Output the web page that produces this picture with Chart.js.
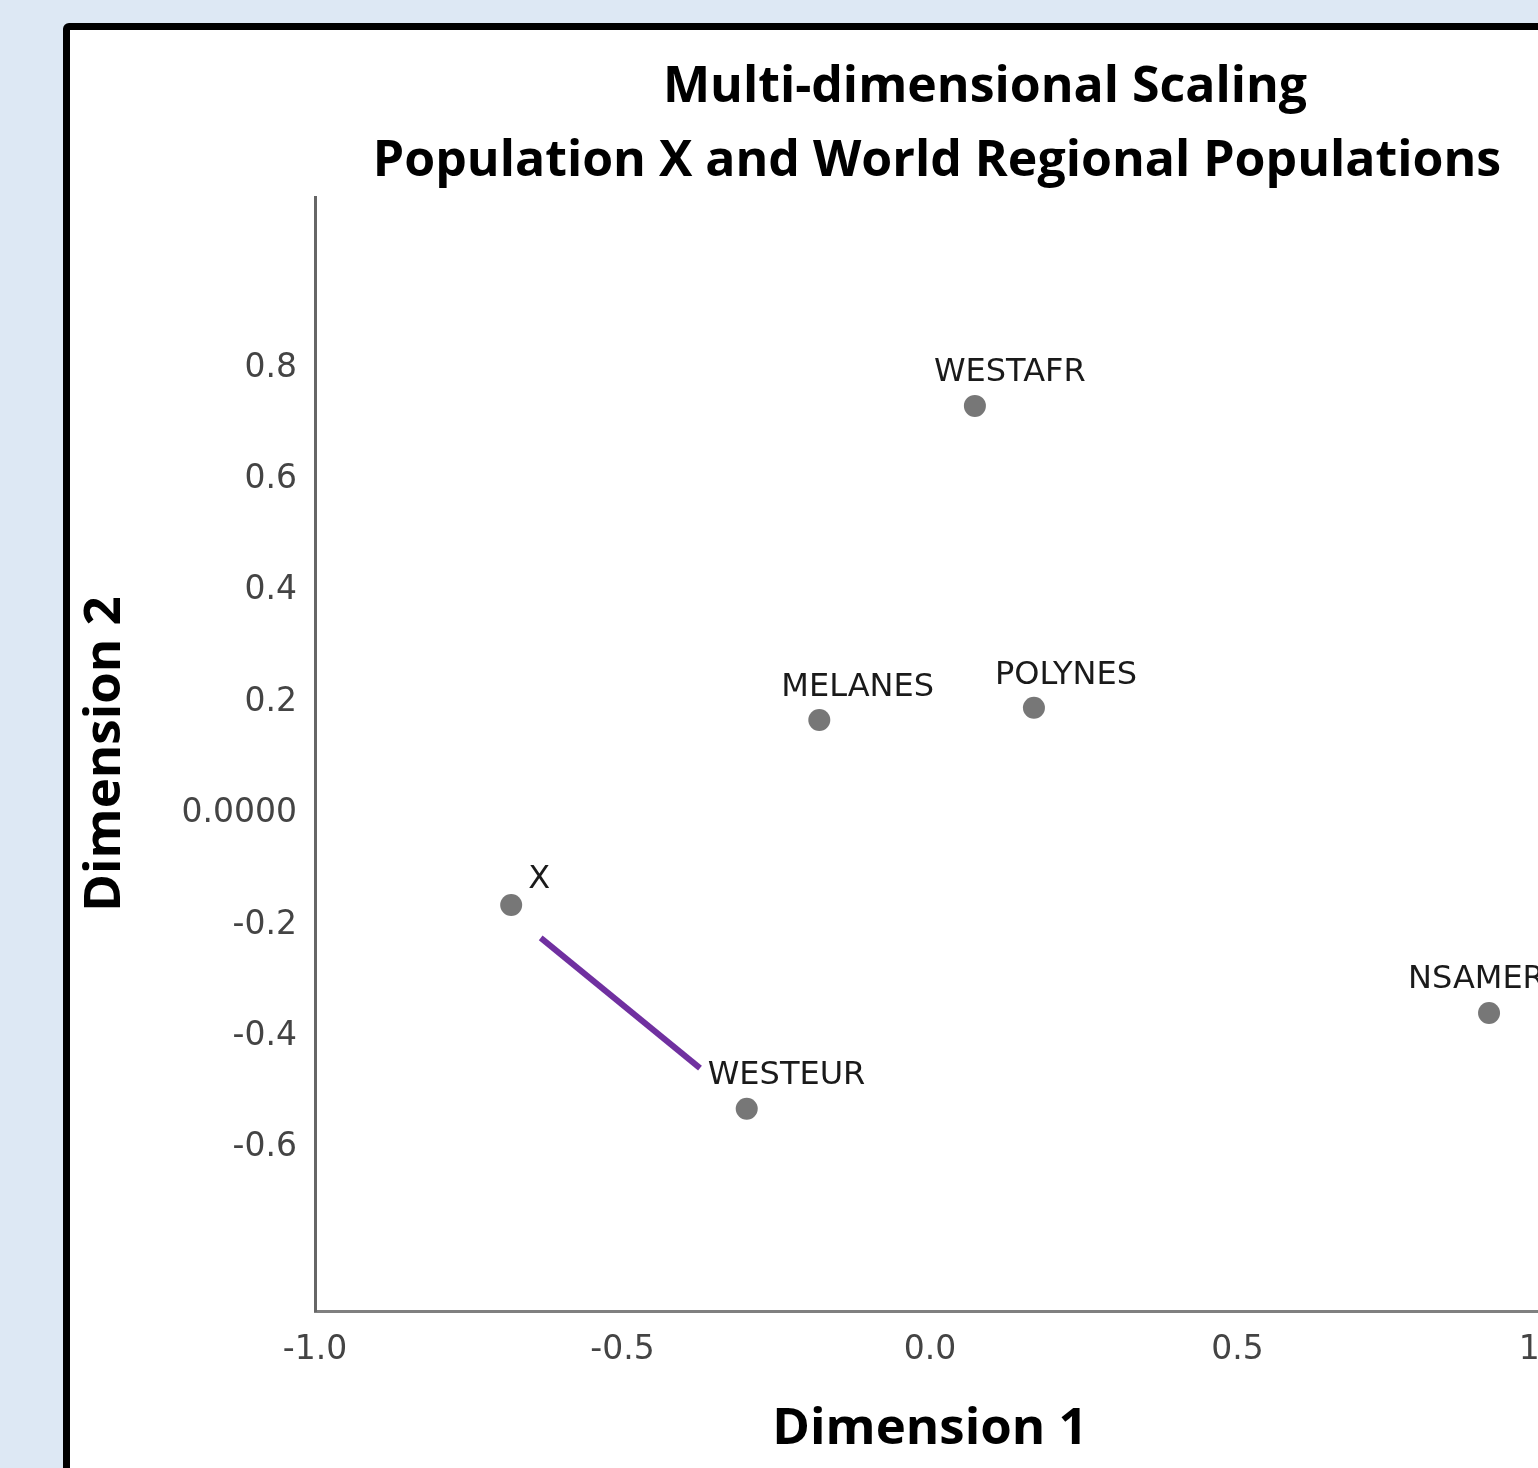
<!DOCTYPE html>
<html>
<head>
<meta charset="utf-8">
<script src="https://cdn.jsdelivr.net/npm/chart.js@4"></script>
<style>
  html, body { margin: 0; padding: 0; }
  body { width: 1538px; height: 1468px; overflow: hidden; background: #dde8f4; position: relative; }
  #panel { position: absolute; left: 63px; top: 23px; width: 1700px; height: 1500px; background: #fff; border: 7px solid #000; border-radius: 6px; }
  #mds { position: absolute; left: 0; top: 0; }
</style>
</head>
<body>
<div id="panel"><canvas id="mds" width="1600" height="1450"></canvas></div>
<script>
//population names
const populations = ["WESTAFR", "MELANES", "POLYNES", "X", "WESTEUR", "NSAMER"];
//coordinates on each dimension
const dimension1 = [0.073, -0.180, 0.169, -0.681, -0.298, 0.909];
const dimension2 = [0.732, 0.168, 0.190, -0.164, -0.530, -0.358];
//purple marker line drawn between X and WESTEUR
const markerX = [-0.633, -0.374];
const markerY = [-0.223, -0.457];
//tick values and labels for dimension 2
const yTicks = [-0.6, -0.4, -0.2, 0, 0.2, 0.4, 0.6, 0.8];
const yTickLabels = ["-0.6", "-0.4", "-0.2", "0.0000", "0.2", "0.4", "0.6", "0.8"];
const titleLines = ["Multi-dimensional Scaling", "Population X and World Regional Populations"];

//label placement: dx from point to text start, dy to text middle
const labelOffsets = [[-41, -33], [-38, -32], [-39, -32], [17, -25], [-39, -33], [-81, -33]];

const pointData = dimension1.map((x, i) => ({ x: x, y: dimension2[i] }));
const markerData = markerX.map((x, i) => ({ x: x, y: markerY[i] }));

//draws the name of each population next to its point
const pointLabels = {
  id: "pointLabels",
  afterDatasetsDraw(chart) {
    const ctx = chart.ctx;
    const meta = chart.getDatasetMeta(0);
    ctx.save();
    ctx.font = "32px 'DejaVu Sans'";
    ctx.fillStyle = "#1a1a1a";
    ctx.textAlign = "left";
    ctx.textBaseline = "middle";
    meta.data.forEach((pt, i) => {
      ctx.fillText(populations[i], pt.x + labelOffsets[i][0], pt.y + labelOffsets[i][1]);
    });
    ctx.restore();
  },
};

//two title lines above the plot
const titleBlock = {
  id: "titleBlock",
  afterDraw(chart) {
    const ctx = chart.ctx;
    const left = chart.chartArea.left;
    ctx.save();
    ctx.font = "bold 50px 'Open Sans'";
    ctx.fillStyle = "#000";
    ctx.textAlign = "center";
    ctx.textBaseline = "middle";
    ctx.fillText(titleLines[0], left + 670, 58);
    ctx.fillText(titleLines[1], left + 622, 132);
    ctx.restore();
  },
};

const axisTitleFont = { family: "'Open Sans'", size: 51, weight: "bold" };
const tickFont = { family: "'DejaVu Sans'", size: 33 };

new Chart(document.getElementById("mds"), {
  type: "scatter",
  plugins: [pointLabels, titleBlock],
  data: {
    datasets: [
      {
        data: pointData,
        backgroundColor: "#777777",
        borderWidth: 0,
        pointRadius: 11,
      },
      {
        data: markerData,
        showLine: true,
        borderColor: "#7030a0",
        borderWidth: 6,
        pointRadius: 0,
      },
    ],
  },
  options: {
    responsive: false,
    animation: false,
    layout: { padding: { top: 167, left: 0, right: 125, bottom: 0 } },
    plugins: {
      legend: { display: false },
      tooltip: { enabled: false },
    },
    scales: {
      x: {
        min: -1,
        max: 1,
        grid: { display: false },
        border: { display: true, color: "#808080", width: 3 },
        ticks: {
          stepSize: 0.5,
          padding: 12,
          color: "#444",
          font: tickFont,
          callback: (v) => Number(v).toFixed(1),
        },
        title: {
          display: true,
          text: "Dimension 1",
          color: "#000",
          font: axisTitleFont,
          padding: { top: 4, bottom: 20 },
        },
        afterFit: (scale) => { scale.height = 169; },
      },
      y: {
        min: -0.893,
        max: 1.107,
        grid: { display: false },
        border: { display: true, color: "#666666", width: 3 },
        afterBuildTicks: (axis) => { axis.ticks = yTicks.map((v) => ({ value: v })); },
        ticks: {
          padding: 10,
          color: "#444",
          font: tickFont,
          callback: (v, i) => yTickLabels[i],
        },
        title: {
          display: true,
          text: "Dimension 2",
          color: "#000",
          font: axisTitleFont,
          padding: { top: 5, bottom: 4 },
        },
        afterFit: (scale) => { scale.width = 245; },
      },
    },
  },
});
</script>
</body>
</html>
